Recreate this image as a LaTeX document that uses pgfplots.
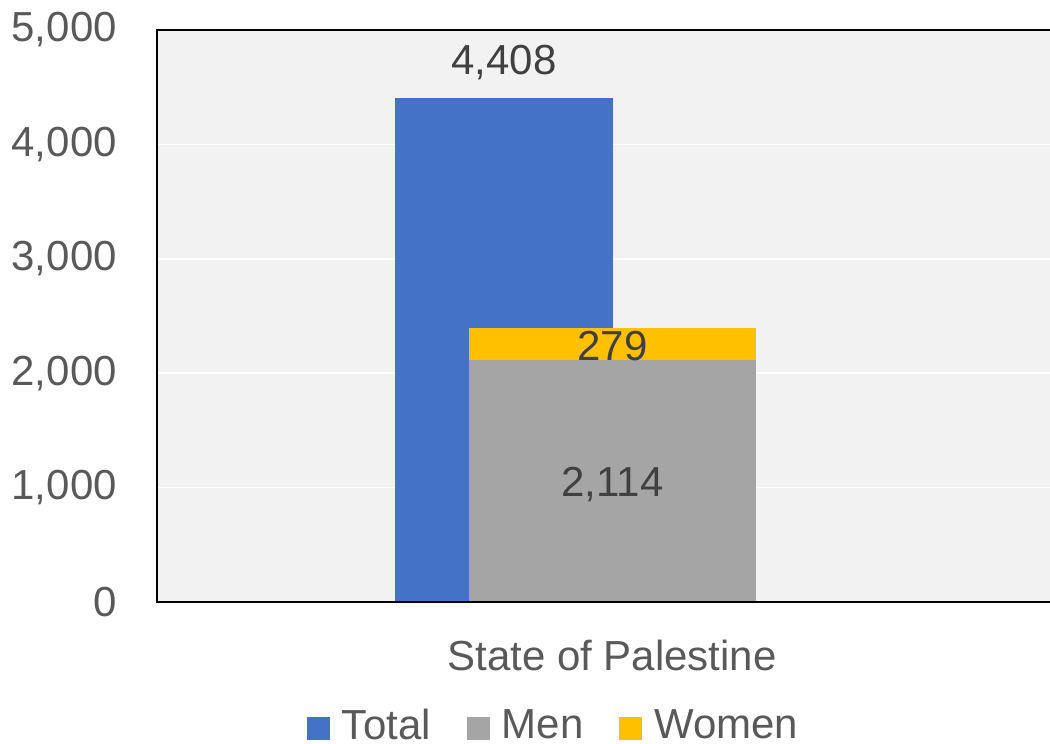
\documentclass[border=0pt]{standalone}
\usepackage{fontspec}
\setmainfont{Liberation Sans}
\usepackage{pgfplots}
\pgfplotsset{compat=1.18}
\definecolor{cTotal}{HTML}{4472C4}
\definecolor{cMen}{HTML}{A5A5A5}
\definecolor{cWomen}{HTML}{FFC000}
\definecolor{bgc}{HTML}{F2F2F2}
\definecolor{tickc}{HTML}{595959}
\definecolor{labc}{HTML}{404040}
\newcommand{\bigfont}{\fontsize{31.5pt}{37pt}\selectfont}
\pgfplotsset{
  common/.style={
    scale only axis, width=682.5pt, height=429pt,
    xmin=0, xmax=910, ymin=0, ymax=5000,
    /pgf/number format/1000 sep={,},
    /pgf/number format/assume math mode=true,
    tick style={draw=none}, major tick length=0pt,
  },
  sq legend/.style={legend image code/.code={\fill[##1] (0pt,-11.25pt) rectangle (17.25pt,6pt);}},
}
\begin{document}
\begin{tikzpicture}
\begin{axis}[common,
  axis background/.style={fill=bgc},
  axis line style={black, line width=1.5pt},
  ytick={0,1000,...,5000},
  ymajorgrids, grid style={white, line width=1.2pt},
  xtick={455}, xticklabels={State of Palestine},
  tick label style={font=\bigfont, text=tickc},
  yticklabel style={inner sep=0pt, anchor=east, xshift=-30pt},
  xticklabel style={inner sep=0pt, anchor=north, yshift=-28.5pt},
  ybar, bar width=218,
  nodes near coords,
  every node near coord/.append style={font=\bigfont, text=labc, anchor=base, inner sep=0pt, yshift=17.25pt},
]
\addplot[fill=cTotal, draw=none, bar shift=0] coordinates {(347,4408)};
\end{axis}
\begin{axis}[common,
  axis y line=none, axis x line*=bottom,
  axis line style={black, line width=1.5pt},
  xtick=\empty, ytick=\empty,
  axis on top,
  ybar stacked, bar width=287,
  nodes near coords, point meta=explicit,
  every node near coord/.append style={font=\bigfont, text=labc, anchor=base, inner sep=0pt},
  legend columns=3,
  legend cell align=left,
  legend style={at={(0.1648,-0.1871)}, anchor=north west, draw=none, fill=none,
    inner sep=0pt, outer sep=0pt, font=\bigfont, text=tickc,
    column sep=9pt,
    /tikz/every even column/.append style={column sep=27pt},
    nodes={inner sep=0pt}},
]
\addlegendimage{fill=cTotal, draw=none, sq legend}
\addlegendentry{Total}
\addplot[fill=cMen, draw=none, bar shift=0, sq legend,
  every node near coord/.append style={yshift=-11.25pt}] coordinates {(455.5,2114) [2114]};
\addlegendentry{Men}
\addplot[fill=cWomen, draw=none, bar shift=0, sq legend,
  every node near coord/.append style={yshift=-12pt}] coordinates {(455.5,279) [279]};
\addlegendentry{Women}
\end{axis}
\pgfresetboundingbox
\path[use as bounding box] ([shift={(-117.75pt,-105.75pt)}]current axis.south west) rectangle ([shift={(669.75pt,451.5pt)}]current axis.south west);
\end{tikzpicture}
\end{document}
